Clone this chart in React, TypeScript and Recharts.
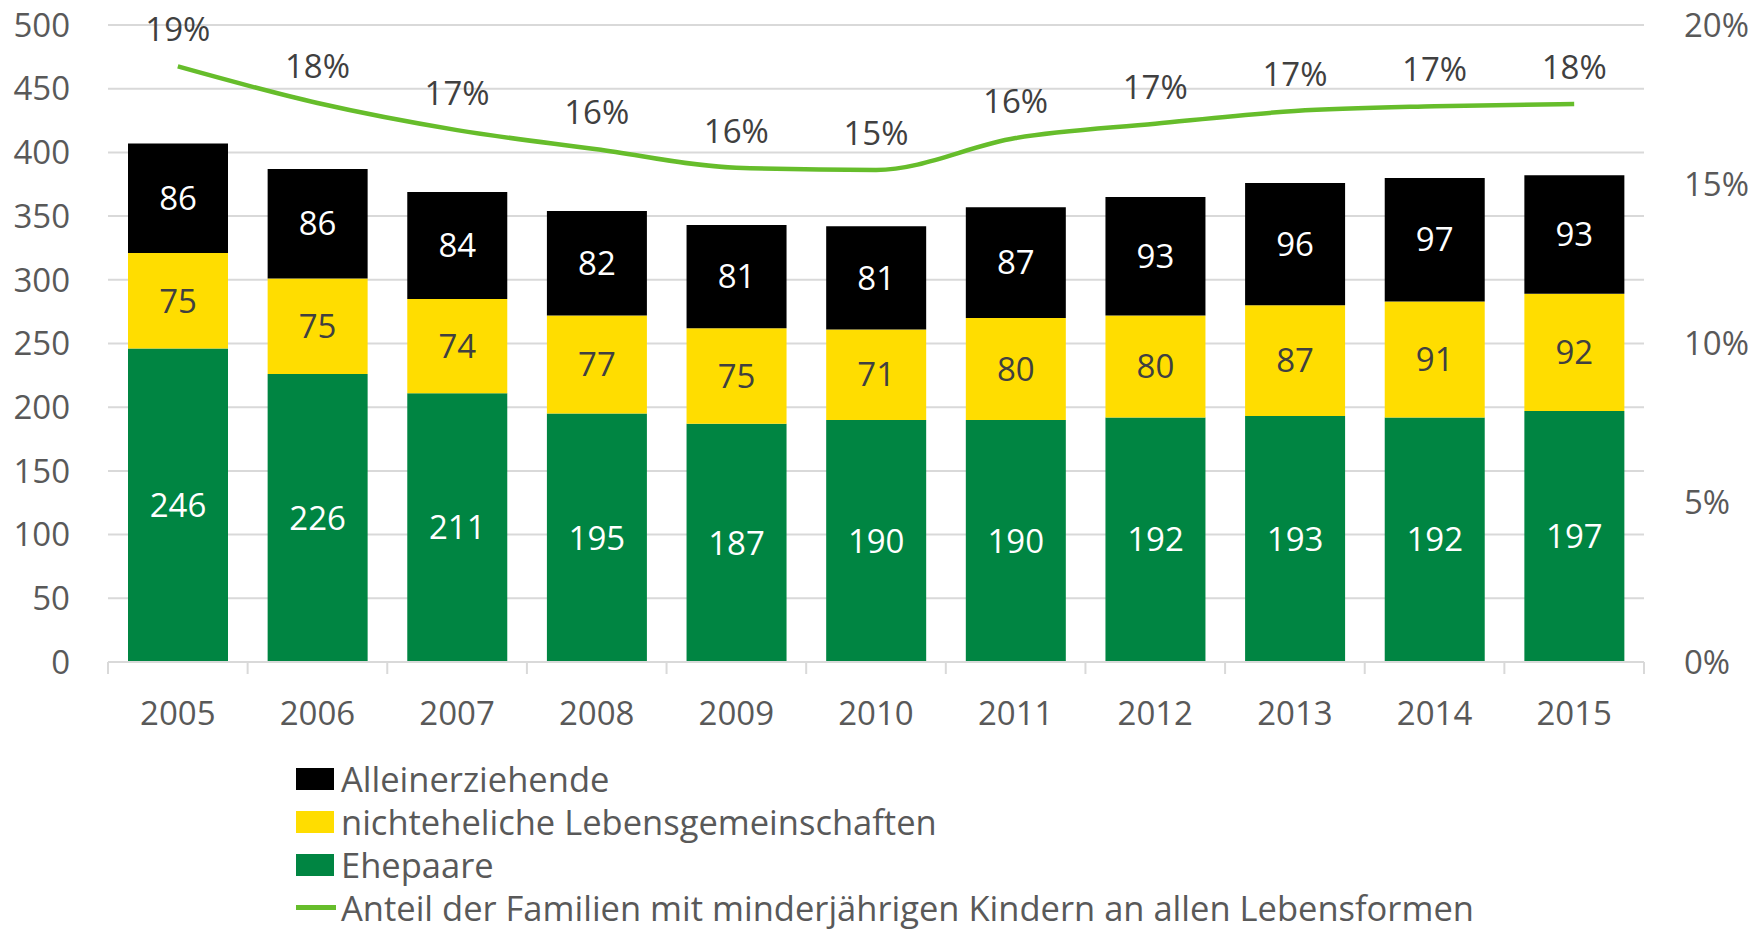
import { ComposedChart, Bar, Line, XAxis, YAxis, CartesianGrid, LabelList } from 'recharts';

const years = ['2005', '2006', '2007', '2008', '2009', '2010', '2011', '2012', '2013', '2014', '2015'];
const ehepaare = [246, 226, 211, 195, 187, 190, 190, 192, 193, 192, 197];
const nichtehelich = [75, 75, 74, 77, 75, 71, 80, 80, 87, 91, 92];
const allein = [86, 86, 84, 82, 81, 81, 87, 93, 96, 97, 93];
const anteil = [18.7, 17.55, 16.7, 16.1, 15.52, 15.45, 16.45, 16.9, 17.3, 17.45, 17.52];

const leftTicks = [0, 50, 100, 150, 200, 250, 300, 350, 400, 450, 500];
const rightTicks = [0, 5, 10, 15, 20];

const FONT = '"Open Sans", sans-serif';
const FS = 33;
const LEGEND_FS = 34.5;
const GREEN = '#008542';
const YELLOW = '#FFDD00';
const BLACK = '#000000';
const LINE = '#66BD2B';
const AXIS_TEXT = '#595959';
const DARK = '#404040';
const GRID = '#d9d9d9';

const data = years.map((year, i) => ({
  year,
  ehepaare: ehepaare[i],
  nichtehelich: nichtehelich[i],
  allein: allein[i],
  anteil: anteil[i],
}));

const X_MARGIN = 40;

// year label plus tick marks on the category boundaries
const YearTick = ({ x, y, payload, index, visibleTicksCount }: any) => {
  const half = payload?.offset ?? 69.8;
  const top = y - X_MARGIN;
  return (
    <g>
      <line x1={x - half} x2={x - half} y1={top} y2={top + 12} stroke={GRID} strokeWidth={2} />
      {index === visibleTicksCount - 1 && (
        <line x1={x + half} x2={x + half} y1={top} y2={top + 12} stroke={GRID} strokeWidth={2} />
      )}
      <text x={x} y={y} dy={FS * 0.7} textAnchor="middle" fill={AXIS_TEXT} fontSize={FS} fontFamily={FONT}>
        {payload.value}
      </text>
    </g>
  );
};

const legendItems = [
  { label: 'Alleinerziehende', color: BLACK, type: 'box' },
  { label: 'nichteheliche Lebensgemeinschaften', color: YELLOW, type: 'box' },
  { label: 'Ehepaare', color: GREEN, type: 'box' },
  { label: 'Anteil der Familien mit minderjährigen Kindern an allen Lebensformen', color: LINE, type: 'line' },
];

const ChartLegend = () => (
  <div style={{ position: 'absolute', left: 296, top: 757, fontFamily: FONT, fontSize: LEGEND_FS, color: AXIS_TEXT }}>
    {legendItems.map((item) => (
      <div key={item.label} style={{ display: 'flex', alignItems: 'center', height: 43, whiteSpace: 'nowrap' }}>
        {item.type === 'box' ? (
          <span style={{ display: 'inline-block', width: 38, height: 22, background: item.color, marginRight: 7 }} />
        ) : (
          <span style={{ display: 'inline-block', width: 40, height: 5, background: item.color, marginRight: 5 }} />
        )}
        <span>{item.label}</span>
      </div>
    ))}
  </div>
);

export default function App() {
  return (
    <div style={{ position: 'absolute', left: 0, top: 0, width: 1759, height: 930, background: '#fff' }}>
      <ComposedChart
        width={1759}
        height={930}
        data={data}
        margin={{ top: 25, right: 0, bottom: 267, left: 0 }}
      >
        <CartesianGrid vertical={false} stroke={GRID} strokeWidth={2} yAxisId="left" />
        <XAxis
          dataKey="year"
          height={1}
          tickSize={0}
          tickMargin={X_MARGIN}
          tick={<YearTick />}
          axisLine={{ stroke: GRID, strokeWidth: 2 }}
          tickLine={false}
          interval={0}
        />
        <YAxis
          yAxisId="left"
          width={108}
          domain={[0, 500]}
          ticks={leftTicks}
          tickSize={0}
          tickMargin={38}
          axisLine={false}
          tickLine={false}
          tick={{ fill: AXIS_TEXT, fontSize: FS, fontFamily: FONT }}
        />
        <YAxis
          yAxisId="right"
          orientation="right"
          width={115}
          domain={[0, 20]}
          ticks={rightTicks}
          tickFormatter={(v: number) => `${v}%`}
          tickSize={0}
          tickMargin={40}
          axisLine={false}
          tickLine={false}
          tick={{ fill: AXIS_TEXT, fontSize: FS, fontFamily: FONT, textAnchor: 'start' }}
        />
        <Bar dataKey="ehepaare" stackId="a" yAxisId="left" fill={GREEN} barSize={100} isAnimationActive={false}>
          <LabelList dataKey="ehepaare" position="center" fill="#ffffff" fontSize={FS} fontFamily={FONT} />
        </Bar>
        <Bar dataKey="nichtehelich" stackId="a" yAxisId="left" fill={YELLOW} barSize={100} isAnimationActive={false}>
          <LabelList dataKey="nichtehelich" position="center" fill={DARK} fontSize={FS} fontFamily={FONT} />
        </Bar>
        <Bar dataKey="allein" stackId="a" yAxisId="left" fill={BLACK} barSize={100} isAnimationActive={false}>
          <LabelList dataKey="allein" position="center" fill="#ffffff" fontSize={FS} fontFamily={FONT} />
        </Bar>
        <Line
          dataKey="anteil"
          yAxisId="right"
          type="monotone"
          stroke={LINE}
          strokeWidth={4.5}
          dot={false}
          activeDot={false}
          isAnimationActive={false}
        >
          <LabelList
            dataKey="anteil"
            position="top"
            offset={25}
            fill={DARK}
            fontSize={FS}
            fontFamily={FONT}
            formatter={(v: any) => `${Math.round(Number(v))}%`}
          />
        </Line>
      </ComposedChart>
      <ChartLegend />
    </div>
  );
}
